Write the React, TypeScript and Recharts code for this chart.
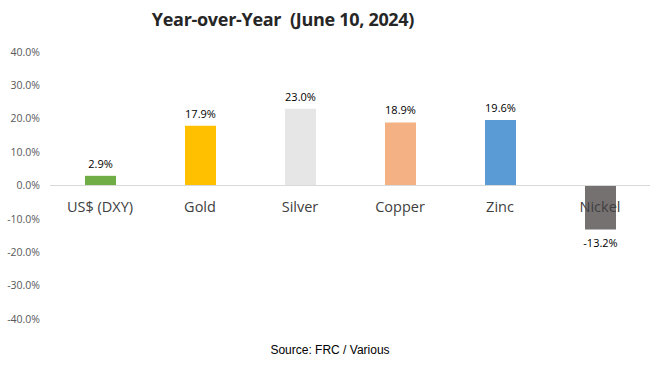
import React from "react";
import { BarChart, Bar, XAxis, YAxis, Cell, LabelList, ReferenceLine } from "recharts";

const categories = ["US$ (DXY)", "Gold", "Silver", "Copper", "Zinc", "Nickel"];
const changes = [2.9, 17.9, 23.0, 18.9, 19.6, -13.2];
const colors = ["#70AD47", "#FFC000", "#E7E6E6", "#F4B183", "#5B9BD5", "#767171"];
const yTicks = [-40, -30, -20, -10, 0, 10, 20, 30, 40];

const data = categories.map((name, i) => ({ name, value: changes[i] }));

const FONT = "'Open Sans', 'Noto Sans', sans-serif";

const CategoryTick = (props: any) => {
    const { x, y, payload } = props;
    // axis sits at the bottom; labels are drawn just under the zero line like Excel
    return (
        <text x={x} y={y - 107} textAnchor="middle" fontSize={14.5} fill="#404040" fontFamily={FONT}>
            {payload.value}
        </text>
    );
};

const ValueLabel = (props: any) => {
    const { x, y, width, height, value } = props;
    const neg = value < 0;
    const top = Math.min(y, y + height);
    const bottom = Math.max(y, y + height);
    return (
        <text
            x={x + width / 2}
            y={neg ? bottom + 17 : top - 8}
            textAnchor="middle"
            fontSize={11}
            fill="#000"
            fontFamily={FONT}
        >
            {value.toFixed(1)}%
        </text>
    );
};

export default function App() {
    return (
        <div style={{ position: "absolute", left: 0, top: 0, width: 669, height: 384, background: "#fff" }}>
            <div
                style={{
                    position: "absolute",
                    left: 0,
                    width: 566,
                    top: 7,
                    textAlign: "center",
                    fontFamily: FONT,
                    fontWeight: 700,
                    fontSize: 18,
                    letterSpacing: -0.3,
                    color: "#262626",
                    whiteSpace: "pre",
                }}
            >
                {"Year-over-Year  (June 10, 2024)"}
            </div>
            <BarChart
                width={669}
                height={384}
                data={data}
                margin={{ top: 52, right: 19, bottom: 35, left: 0 }}
                barSize={31}
            >
                <YAxis
                    width={50}
                    domain={[-40, 40]}
                    ticks={yTicks}
                    axisLine={false}
                    tickLine={false}
                    tickSize={0}
                    tickMargin={10}
                    interval={0}
                    tickFormatter={(v: number) => `${v.toFixed(1)}%`}
                    tick={{ fontSize: 10.5, fill: "#595959", fontFamily: FONT }}
                />
                <ReferenceLine y={0} stroke="#D9D9D9" strokeWidth={1} />
                <Bar dataKey="value" isAnimationActive={false}>
                    {data.map((d, i) => (
                        <Cell key={d.name} fill={colors[i]} />
                    ))}
                    <LabelList dataKey="value" content={ValueLabel} />
                </Bar>
                <XAxis
                    dataKey="name"
                    height={30}
                    axisLine={false}
                    tickLine={false}
                    tickSize={0}
                    tickMargin={0}
                    interval={0}
                    tick={CategoryTick}
                />
            </BarChart>
            <div
                style={{
                    position: "absolute",
                    left: 0,
                    width: 660,
                    top: 343,
                    textAlign: "center",
                    fontFamily: "'Liberation Sans', Arial, sans-serif",
                    fontSize: 12,
                    color: "#000",
                }}
            >
                Source: FRC / Various
            </div>
        </div>
    );
}
